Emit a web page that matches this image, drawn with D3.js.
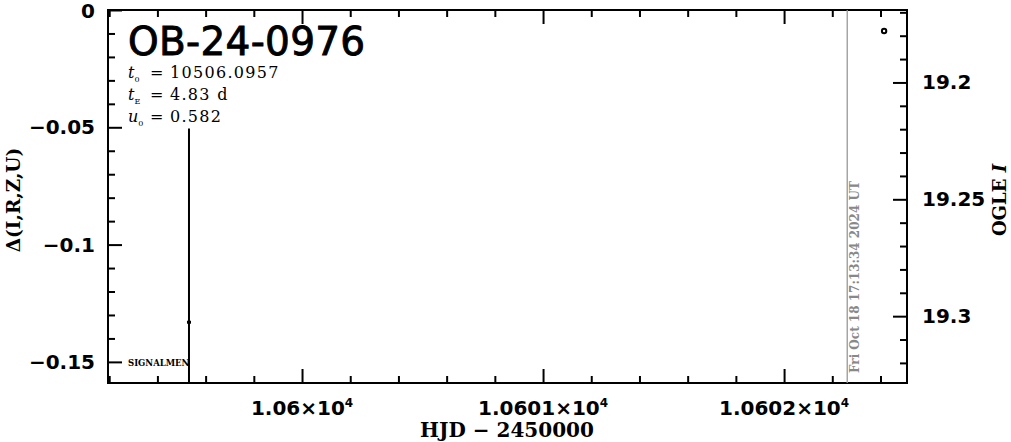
<!DOCTYPE html>
<html><head><meta charset="utf-8">
<script src="https://cdn.jsdelivr.net/npm/d3@7"></script>
<style>body{margin:0;background:#fff}svg{display:block}</style>
</head><body>
<script>
// ---- data ----
const xDomain = [10599.195, 10602.51];
const leftDomain = [0, -0.159];
const rightDomain = [19.169, 19.3286];
const xMajor = [10600, 10601, 10602];
const xMajorLabels = ["1.06×10", "1.0601×10", "1.0602×10"];
const leftMajor = [0, -0.05, -0.1, -0.15];
const leftLabels = ["0", "−0.05", "−0.1", "−0.15"];
const rightMajor = [19.2, 19.25, 19.3];
const rightLabels = ["19.2", "19.25", "19.3"];
// error-bar point (OGLE I)
const errHJD = [10599.531];
const errMag = [19.3026];
const errLo = [19.2197];
const errHi = [19.386];
// open circle point
const ptHJD = [10602.415];
const ptMag = [19.178];
const nowHJD = 10602.262;
const nowLabel = "Fri Oct 18 17:13:34 2024 UT";
const title = "OB-24-0976";
const paramSym = ["t", "t", "u"];
const paramSub = ["0", "E", "0"];
const paramVal = ["10506.0957", "4.83 d", "0.582"];

const W = 1011, H = 442;
const L = 108, R = 907, T = 10, B = 383;
const svg = d3.select("body").append("svg").attr("width", W).attr("height", H);
const x = d3.scaleLinear().domain(xDomain).range([L, R]);
const yL = d3.scaleLinear().domain(leftDomain).range([T, B]);
const yR = d3.scaleLinear().domain(rightDomain).range([T, B]);

const range = (a, b, s) => { const r = []; for (let v = a; v <= b + 1e-9; v += s) r.push(+v.toFixed(4)); return r; };
const xMinor = range(10599.2, 10602.4, 0.2).filter(v => !xMajor.some(m => Math.abs(m - v) < 1e-6));
const lMinor = range(-0.15, 0, 0.01).filter(v => !leftMajor.some(m => Math.abs(m - v) < 1e-6));
const rMinor = range(19.17, 19.32, 0.01).filter(v => !rightMajor.some(m => Math.abs(m - v) < 1e-6));

const tickFont = "'DejaVu Sans', sans-serif";
const slab = "'DejaVu Serif', serif";

function axis(gen, scale, vals, size, tr) {
  const g = svg.append("g").attr("transform", tr)
    .call(gen(scale).tickValues(vals).tickSize(size).tickFormat(""));
  g.select(".domain").remove();
  g.selectAll("line").attr("stroke", "#000").attr("stroke-width", 2);
  return g;
}
// bottom
axis(d3.axisBottom, x, xMajor, -14, `translate(0,${B})`);
axis(d3.axisBottom, x, xMinor, -7, `translate(0,${B})`);
// top
axis(d3.axisTop, x, xMajor, -14, `translate(0,${T})`);
axis(d3.axisTop, x, xMinor, -7, `translate(0,${T})`);
// left
axis(d3.axisLeft, yL, leftMajor, -14, `translate(${L},0)`);
axis(d3.axisLeft, yL, lMinor, -7, `translate(${L},0)`);
// right
axis(d3.axisRight, yR, rightMajor, -14, `translate(${R},0)`);
axis(d3.axisRight, yR, rMinor, -7, `translate(${R},0)`);

// frame
svg.append("rect").attr("x", L).attr("y", T).attr("width", R - L).attr("height", B - T)
  .attr("fill", "none").attr("stroke", "#000").attr("stroke-width", 2);

// tick labels
xMajor.forEach((v, i) => {
  const t = svg.append("text").attr("x", x(v)).attr("y", 415).attr("text-anchor", "middle")
    .attr("font-family", tickFont).attr("font-size", 20).attr("font-weight", "bold").text(xMajorLabels[i]);
  t.append("tspan").attr("dy", -8).attr("font-size", 12).text("4");
});
leftMajor.forEach((v, i) => {
  svg.append("text").attr("x", 95).attr("y", Math.max(yL(v) + 7, 18)).attr("text-anchor", "end")
    .attr("font-family", tickFont).attr("font-size", 20).attr("font-weight", "bold").text(leftLabels[i]);
});
rightMajor.forEach((v, i) => {
  svg.append("text").attr("x", 922).attr("y", yR(v) + 7).attr("text-anchor", "start")
    .attr("font-family", tickFont).attr("font-size", 20).attr("font-weight", "bold").text(rightLabels[i]);
});

// axis titles
svg.append("text").attr("x", 507).attr("y", 437).attr("text-anchor", "middle")
  .attr("font-family", slab).attr("font-size", 20).attr("font-weight", "bold").text("HJD − 2450000");
svg.append("text").attr("transform", "translate(20,200) rotate(-90)").attr("text-anchor", "middle")
  .attr("font-family", slab).attr("font-size", 18.5).attr("font-weight", "bold").text("Δ(I,R,Z,U)");
const rt = svg.append("text").attr("transform", "translate(1006,200) rotate(-90)").attr("text-anchor", "middle")
  .attr("font-family", slab).attr("font-size", 18).attr("font-weight", "bold").text("OGLE ");
rt.append("tspan").attr("font-style", "italic").text("I");

// title & params
svg.append("text").attr("x", 128).attr("y", 55).attr("font-family", tickFont).attr("font-size", 39)
  .attr("stroke", "#000").attr("stroke-width", 0.9).attr("letter-spacing", 0.3).text(title);
paramSym.forEach((s, i) => {
  const yy = 78 + i * 22;
  const t = svg.append("text").attr("x", 128).attr("y", yy)
    .attr("font-family", slab).attr("font-size", 16);
  t.append("tspan").attr("font-style", "italic").text(s);
  t.append("tspan").attr("dy", 4).attr("font-size", 8).text(paramSub[i]);
  svg.append("text").attr("x", 150).attr("y", yy).attr("font-family", slab).attr("font-size", 16).text("=");
  svg.append("text").attr("x", 170).attr("y", yy).attr("font-family", slab).attr("font-size", 16)
    .attr("letter-spacing", 1.3).text(paramVal[i]);
});

// now line
svg.append("line").attr("x1", x(nowHJD)).attr("x2", x(nowHJD)).attr("y1", T).attr("y2", B)
  .attr("stroke", "#999").attr("stroke-width", 1.3);
svg.append("text").attr("transform", `translate(${x(nowHJD) + 12},373) rotate(-90)`)
  .attr("font-family", slab).attr("font-size", 12).attr("font-weight", "bold").attr("fill", "#888").text(nowLabel);

svg.append("text").attr("x", 128).attr("y", 366).attr("font-family", slab).attr("font-size", 8.5)
  .attr("font-weight", "bold").text("SIGNALMEN");

// data
const clip = svg.append("clipPath").attr("id", "c").append("rect").attr("x", L).attr("y", T).attr("width", R - L).attr("height", B - T);
const dg = svg.append("g").attr("clip-path", "url(#c)");
errHJD.forEach((h, i) => {
  dg.append("line").attr("x1", x(h)).attr("x2", x(h)).attr("y1", yR(errLo[i])).attr("y2", yR(errHi[i]))
    .attr("stroke", "#000").attr("stroke-width", 2);
  dg.append("rect").attr("x", x(h) - 2).attr("y", yR(errMag[i]) - 1.5).attr("width", 4).attr("height", 3).attr("fill", "#000");
});
ptHJD.forEach((h, i) => {
  dg.append("circle").attr("cx", x(h)).attr("cy", yR(ptMag[i])).attr("r", 2.2)
    .attr("fill", "none").attr("stroke", "#000").attr("stroke-width", 2);
});
</script>
</body></html>
